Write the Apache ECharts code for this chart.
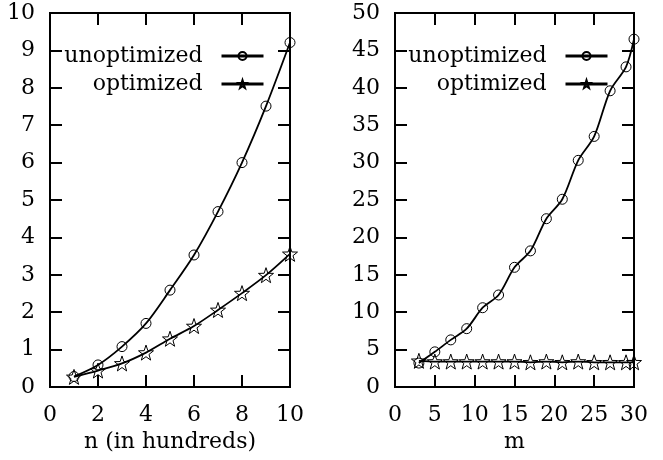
<!DOCTYPE html>
<html>
<head>
<meta charset="utf-8">
<script src="https://cdn.jsdelivr.net/npm/echarts@6/dist/echarts.min.js"></script>
<style>
html,body{margin:0;padding:0;background:#fff;}
#c{width:663px;height:460px;}
</style>
</head>
<body>
<div id="c"></div>
<script>
// ---- data ----
const seriesNames = ['unoptimized', 'optimized'];
const leftX = [1, 2, 3, 4, 5, 6, 7, 8, 9, 10];
const leftUnopt = [0.28, 0.59, 1.08, 1.70, 2.59, 3.53, 4.69, 6.00, 7.51, 9.21];
const leftOpt = [0.27, 0.44, 0.63, 0.92, 1.29, 1.63, 2.06, 2.51, 2.99, 3.56];
const rightX = [3, 5, 7, 9, 11, 13, 15, 17, 19, 21, 23, 25, 27, 29, 30];
const rightUnopt = [3.2, 4.7, 6.3, 7.8, 10.6, 12.3, 16.0, 18.2, 22.5, 25.1, 30.3, 33.5, 39.6, 42.8, 46.5];
const rightOpt = [3.5, 3.4, 3.4, 3.4, 3.4, 3.4, 3.4, 3.3, 3.4, 3.3, 3.4, 3.3, 3.3, 3.3, 3.3];
const leftXTicks = [0, 2, 4, 6, 8, 10];
const leftYTicks = [0, 1, 2, 3, 4, 5, 6, 7, 8, 9, 10];
const rightXTicks = [0, 5, 10, 15, 20, 25, 30];
const rightYTicks = [0, 5, 10, 15, 20, 25, 30, 35, 40, 45, 50];
const xNames = ['n (in hundreds)', 'm'];

const FONT = 'DejaVu Serif';
const FS = 22;
const starPath = 'path://M0,-10 L2.35,-3.24 L9.51,-3.09 L3.8,1.24 L5.88,8.09 L0,4 L-5.88,8.09 L-3.8,1.24 L-9.51,-3.09 L-2.35,-3.24 Z';

function zip(xs, ys) { return xs.map((x, i) => [x, ys[i]]); }

const grids = [
  { left: 50, top: 13, width: 240, height: 374 },
  { left: 395, top: 13, width: 239, height: 374 }
];
const ranges = [
  { xt: leftXTicks, yt: leftYTicks },
  { xt: rightXTicks, yt: rightYTicks }
];

const tick = { show: true, inside: true, length: 12, lineStyle: { color: '#000', width: 2 } };
const xAxis = [], yAxis = [];
ranges.forEach((r, g) => {
  const xmin = r.xt[0], xmax = r.xt[r.xt.length - 1], xi = r.xt[1] - r.xt[0];
  const ymin = r.yt[0], ymax = r.yt[r.yt.length - 1], yi = r.yt[1] - r.yt[0];
  xAxis.push({
    type: 'value', gridIndex: g, position: 'bottom', min: xmin, max: xmax, interval: xi,
    axisLine: { show: true, onZero: false, lineStyle: { color: '#000', width: 2 } },
    axisTick: tick, splitLine: { show: false },
    axisLabel: { color: '#000', fontFamily: FONT, fontSize: FS, margin: 17 },
    name: xNames[g], nameLocation: 'middle', nameGap: 44,
    nameTextStyle: { color: '#000', fontFamily: FONT, fontSize: FS }
  });
  xAxis.push({
    type: 'value', gridIndex: g, position: 'top', min: xmin, max: xmax, interval: xi,
    axisLine: { show: true, onZero: false, lineStyle: { color: '#000', width: 2 } },
    axisTick: tick, splitLine: { show: false }, axisLabel: { show: false }
  });
  yAxis.push({
    type: 'value', gridIndex: g, position: 'left', min: ymin, max: ymax, interval: yi,
    axisLine: { show: true, onZero: false, lineStyle: { color: '#000', width: 2 } },
    axisTick: tick, splitLine: { show: false },
    axisLabel: { color: '#000', fontFamily: FONT, fontSize: FS, margin: 15 }
  });
  yAxis.push({
    type: 'value', gridIndex: g, position: 'right', min: ymin, max: ymax, interval: yi,
    axisLine: { show: true, onZero: false, lineStyle: { color: '#000', width: 2 } },
    axisTick: tick, splitLine: { show: false }, axisLabel: { show: false }
  });
});

function mkSeries(name, g, xs, ys, star) {
  return {
    name: name, type: 'line', xAxisIndex: g * 2, yAxisIndex: g * 2,
    data: zip(xs, ys), smooth: 0.3,
    symbol: star ? starPath : 'circle',
    symbolSize: star ? 15 : 10,
    showAllSymbol: true,
    lineStyle: { color: '#000', width: 1.8 },
    itemStyle: { color: 'rgba(0,0,0,0)', borderColor: '#000', borderWidth: 1 },
    emphasis: { disabled: true },
    animation: false, z: star ? 3 : 2
  };
}

const series = [
  mkSeries(seriesNames[0], 0, leftX, leftUnopt, false),
  mkSeries(seriesNames[1], 0, leftX, leftOpt, true),
  mkSeries(seriesNames[0], 1, rightX, rightUnopt, false),
  mkSeries(seriesNames[1], 1, rightX, rightOpt, true)
];

const legendBase = {
  orient: 'vertical', align: 'right', top: 45, itemGap: 6, padding: 0,
  itemWidth: 42, itemHeight: 10,
  selectedMode: false,
  lineStyle: { width: 3, color: '#000' },
  textStyle: { color: '#000', fontFamily: FONT, fontSize: FS, padding: [0, 14, 0, 0] },
  data: seriesNames
};

const chart = echarts.init(document.getElementById('c'), null, { renderer: 'canvas' });
chart.setOption({
  animation: false,
  backgroundColor: '#fff',
  grid: grids.map(g => Object.assign({ show: true, borderColor: '#000', borderWidth: 2, backgroundColor: 'transparent' }, g)),
  xAxis: xAxis, yAxis: yAxis,
  legend: [
    Object.assign({}, legendBase, { right: 663 - 265 }),
    Object.assign({}, legendBase, { right: 663 - 609 })
  ],
  series: series
});
</script>
</body>
</html>
